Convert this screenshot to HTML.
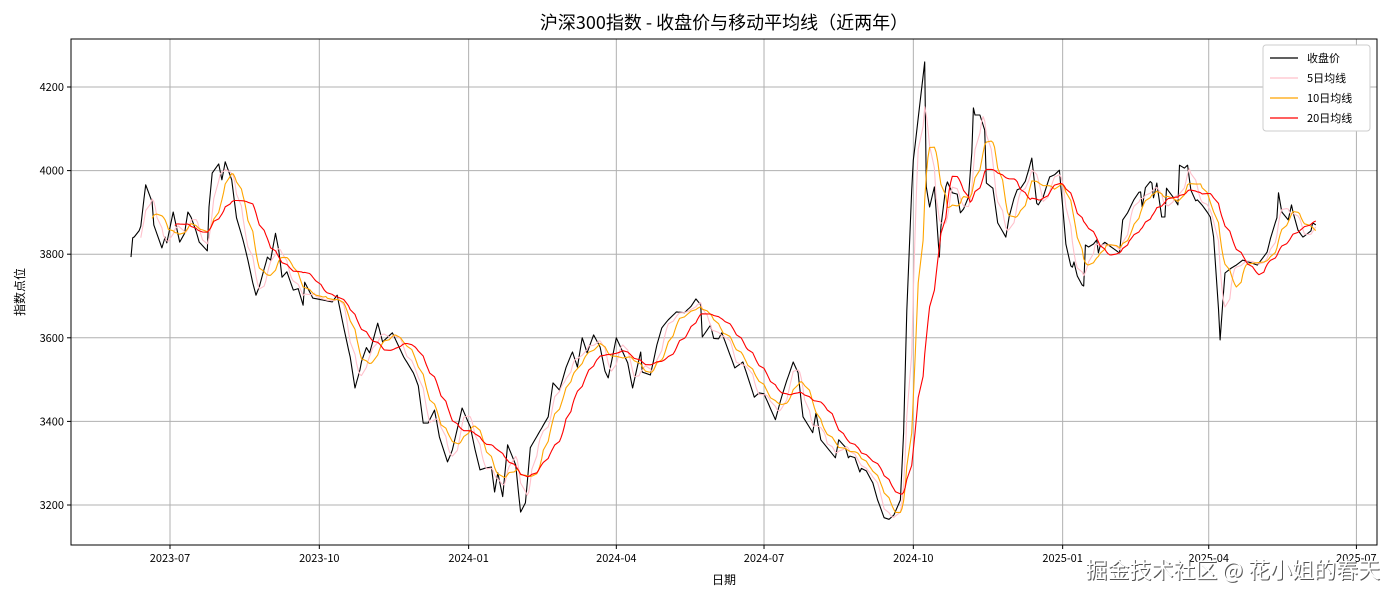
<!DOCTYPE html>
<html><head><meta charset="utf-8"><style>
html,body{margin:0;padding:0;background:#fff;}
svg{display:block;font-family:"WenQuanYi Zen Hei","Noto Sans CJK SC","Liberation Sans",sans-serif;}
</style></head><body>
<svg id="chart" width="1400" height="600"></svg>
<script>
// days since 2023-07-01
const dayOffsets=[-24,-23,-20,-18,-15,-11,-10,-5,-3,-2,2,3,6,9,11,14,18,23,24,26,30,32,34,38,41,45,48,51,53,55,60,62,65,67,69,71,76,78,82,83,88,100,103,106,111,114,117,120,123,128,131,137,144,150,154,156,159,163,166,171,174,180,185,188,191,194,198,200,202,205,208,213,216,219,222,233,236,240,245,248,251,254,257,261,265,267,270,275,282,285,290,291,296,302,307,312,317,322,324,327,328,333,336,340,348,353,360,365,373,378,384,387,390,396,399,401,410,412,416,418,421,425,427,433,436,441,446,450,452,455,458,465,466,469,471,474,476,479,482,484,487,490,492,494,495,497,499,502,503,507,510,515,518,522,526,529,531,532,535,538,542,545,548,550,553,556,556,560,563,564,567,571,572,574,585,587,590,593,596,598,599,602,605,606,608,609,613,614,618,621,622,625,627,630,633,637,641,644,647,650,654,657,661,670,676,679,682,683,685,689,691,694,698,700,703,704,706];
const closeValues=[3793,3839,3846,3867,3966,3925,3870,3815,3841,3827,3901,3882,3829,3850,3901,3882,3829,3808,3913,3994,4016,3978,4021,3978,3887,3834,3786,3731,3702,3722,3793,3786,3850,3810,3745,3769,3714,3731,3678,3733,3695,3686,3702,3643,3554,3480,3523,3583,3564,3635,3590,3612,3554,3516,3475,3396,3396,3427,3363,3303,3332,3432,3387,3332,3284,3288,3291,3231,3277,3220,3344,3296,3183,3205,3337,3411,3492,3475,3542,3566,3530,3600,3564,3607,3578,3528,3504,3600,3540,3480,3566,3518,3511,3619,3643,3662,3660,3679,3693,3679,3602,3630,3583,3612,3528,3542,3458,3475,3404,3475,3542,3516,3411,3373,3444,3356,3313,3356,3339,3313,3325,3279,3296,3253,3212,3159,3176,3212,3373,3810,4025,4260,3961,3889,3961,3793,3937,3973,3947,3966,3899,3913,3937,4042,4150,4116,4133,4097,3970,3958,3875,3841,3913,3954,3961,4001,4030,3930,3918,3937,3985,3990,4001,3913,3779,3769,3798,3731,3724,3822,3815,3834,3803,3834,3803,3882,3899,3923,3947,3949,3913,3982,3970,3935,3970,3889,3889,3958,3937,3918,4013,4006,4013,3923,3930,3913,3889,3817,3595,3755,3767,3774,3786,3774,3805,3853,3887,3947,3901,3882,3918,3863,3841,3846,3856,3875,3870];
const yTicks=[3200,3400,3600,3800,4000,4200];
const xTickLabels=["2023-07","2023-10","2024-01","2024-04","2024-07","2024-10","2025-01","2025-04","2025-07"];
const xTickDays=[0,92,184,275,366,458,550,640,731];
const maWindows=[5,10,20];

const svg=document.getElementById('chart');
const NS='http://www.w3.org/2000/svg';
const L=71,R=1377,T=39,B=545;
const xs=d=>170+d*1.623;
const ys=v=>505-(v-3200)*0.418;
function mk(tag,attrs,parent){const e=document.createElementNS(NS,tag);for(const k in attrs)e.setAttribute(k,attrs[k]);(parent||svg).appendChild(e);return e;}

const start=new Date(Date.UTC(2023,6,1));
const days=[],vals=[];
for(let d=dayOffsets[0];d<=dayOffsets[dayOffsets.length-1];d++){
  const wd=new Date(start.getTime()+d*86400000).getUTCDay();
  if(wd===0||wd===6)continue;
  let i=0;while(i<dayOffsets.length-2&&dayOffsets[i+1]<d)i++;
  const d0=dayOffsets[i],d1=dayOffsets[i+1];
  const t=d1===d0?0:(d-d0)/(d1-d0);
  days.push(d);vals.push(closeValues[i]+(closeValues[i+1]-closeValues[i])*t);
}
function ma(n){const out=[];for(let i=n-1;i<vals.length;i++){let s=0;for(let j=i-n+1;j<=i;j++)s+=vals[j];out.push([days[i],s/n]);}return out;}

const grid=mk('g',{});


xTickDays.forEach((d,i)=>{
  const x=xs(d);
  if(x<=R){const gl=mk('line',{x1:x,x2:x,y1:T,y2:B,stroke:'#b0b0b0','stroke-width':1},grid);
  }
  mk('line',{x1:x,x2:x,y1:B,y2:B+4,stroke:'#000'});
  const t=mk('text',{x:x,y:B+17,'font-size':11,'text-anchor':'middle'});t.textContent=xTickLabels[i];
  
});
yTicks.forEach(v=>{
  const y=ys(v);
  const gl=mk('line',{x1:L,x2:R,y1:y,y2:y,stroke:'#b0b0b0','stroke-width':1},grid);
  
  mk('line',{x1:L-4,x2:L,y1:y,y2:y,stroke:'#000'});
  const t=mk('text',{x:L-7,y:y+4,'font-size':11,'text-anchor':'end'});t.textContent=v;
  
});

function line(pts,color,w,name){
  const p=mk('path',{d:pts.map((q,i)=>(i?'L':'M')+xs(q[0]).toFixed(1)+' '+ys(q[1]).toFixed(1)).join(''),fill:'none',stroke:color,'stroke-width':w,'stroke-linejoin':'round'});
  
}
line(days.map((d,i)=>[d,vals[i]]),'#000',1.1,'close-line');
line(ma(maWindows[0]),'#ffc0cb',1.1,'ma5-line');
line(ma(maWindows[1]),'#ffa500',1.1,'ma10-line');
line(ma(maWindows[2]),'#ff0000',1.1,'ma20-line');

mk('rect',{x:L,y:T,width:R-L,height:B-T,fill:'none',stroke:'#000','stroke-width':1});
const title=mk('text',{x:724,y:29,'font-size':18,'text-anchor':'middle'});title.textContent='沪深300指数 - 收盘价与移动平均线（近两年）';

const xl=mk('text',{x:724,y:584,'font-size':12,'text-anchor':'middle'});xl.textContent='日期';

const yl=mk('text',{x:24,y:292,'font-size':12,'text-anchor':'middle',transform:'rotate(-90 24 292)'});yl.textContent='指数点位';


const lg=mk('g',{});

mk('rect',{x:1263,y:45,width:107,height:86,fill:'#fff',stroke:'#ccc',rx:3},lg);
const legNames=['收盘价','5日均线','10日均线','20日均线'];
const legColors=['#000','#ffc0cb','#ffa500','#ff0000'];
legNames.forEach((n,i)=>{
  const y=58+i*20;
  const e=mk('g',{},lg);
  
  mk('line',{x1:1270,x2:1298,y1:y,y2:y,stroke:legColors[i],'stroke-width':1.2},e);
  const t=mk('text',{x:1307,y:y+4,'font-size':11},e);t.textContent=n;
});
const wmg=mk('g',{});

const ws=mk('text',{x:1381,y:579,'font-size':22,'text-anchor':'end',fill:'#555'},wmg);ws.textContent='掘金技术社区 @ 花小姐的春天';
const wm=mk('text',{x:1380,y:578,'font-size':22,'text-anchor':'end',fill:'#fff'},wmg);wm.textContent='掘金技术社区 @ 花小姐的春天';
</script>
</body></html>
